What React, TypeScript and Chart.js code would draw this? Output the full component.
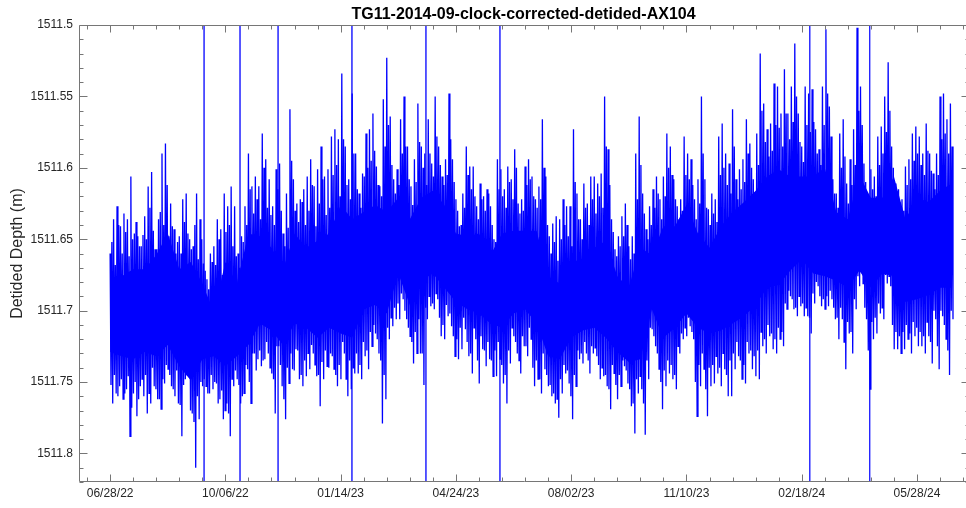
import { useEffect, useRef } from 'react';
import { Chart, registerables } from 'chart.js';

Chart.register(...registerables);

// ---------------- data ----------------
const TITLE = 'TG11-2014-09-clock-corrected-detided-AX104';
const Y_TITLE = 'Detided Depth (m)';

// Depth is stored as millimetres below 1511 m. Day 0 = 06/28/22.
const DEPTH_BASE_M = 1511;

// Readings per 3-day bin: largest excursion up / down, plus a secondary peak / trough
const BIN_DAYS = 3;
const upperMm = [
  660, 636, 627, 641, 632, 636, 606, 646, 648, 655, 634, 613, 603, 657, 636, 590, 583, 648, 641, 660,
  648, 622, 618, 650, 655, 618, 636, 667, 678, 660, 655, 636, 643, 618, 627, 613, 627, 660, 648, 627,
  590, 613, 606, 613, 576, 594, 608, 627, 601, 597, 646, 618, 559, 608, 625, 622, 615, 606, 594, 613,
  601, 585, 606, 601, 578, 573, 580, 534, 585, 608, 548, 590, 618, 604, 576, 573, 562, 599, 613, 552,
  523, 564, 608, 601, 566, 550, 585, 613, 594, 555, 585, 590, 566, 597, 550, 585, 606, 594, 548, 594,
  622, 641, 618, 585, 599, 599, 627, 611, 620, 615, 627, 650, 594, 601, 615, 599, 608, 587, 625, 622,
  599, 594, 606, 622, 613, 566, 606, 648, 639, 634, 636, 622, 627, 627, 573, 618, 636, 611, 625, 606,
  606, 611, 604, 550, 587, 636, 657, 648, 634, 625, 655, 648, 590, 564, 618, 643, 627, 615, 606, 622,
  606, 576, 585, 608, 627, 622, 578, 590, 594, 622, 608, 550, 608, 629, 618, 622, 578, 569, 590, 597,
  559, 608, 601, 594, 566, 583, 608, 576, 520, 555, 573, 569, 541, 543, 562, 531, 562, 543, 513, 562,
  585, 543, 548, 545, 573, 587, 543, 503, 557, 608, 618, 576, 566, 611, 594, 573, 502, 543, 597, 627,
  601, 606, 578, 571, 550, 526, 585, 611, 615, 622, 599, 594, 576, 571, 578, 590, 569, 590, 604, 590,
  550, 548, 566, 555,
];
const lowerMm = [
  765, 758, 753, 762, 755, 788, 758, 774, 753, 760, 772, 765, 753, 762, 769, 751, 741, 753, 760, 765,
  788, 748, 741, 772, 810, 776, 753, 753, 758, 755, 751, 762, 776, 765, 788, 753, 748, 765, 758, 741,
  765, 730, 734, 739, 734, 730, 744, 772, 725, 753, 776, 751, 741, 727, 748, 753, 746, 741, 730, 746,
  767, 748, 739, 730, 741, 753, 748, 730, 760, 755, 744, 744, 748, 732, 741, 725, 716, 730, 779, 762,
  720, 711, 706, 706, 692, 706, 718, 737, 730, 730, 752, 706, 697, 699, 692, 718, 720, 704, 711, 732,
  734, 727, 713, 732, 744, 720, 751, 727, 739, 734, 746, 746, 734, 751, 765, 737, 718, 730, 744, 725,
  732, 720, 753, 748, 758, 741, 753, 760, 765, 775, 758, 744, 751, 776, 753, 734, 737, 730, 744, 730,
  732, 748, 746, 753, 769, 744, 762, 753, 739, 751, 767, 786, 758, 755, 787, 748, 713, 725, 741, 769,
  753, 744, 748, 755, 730, 720, 718, 711, 720, 774, 753, 741, 774, 753, 751, 744, 753, 741, 760, 760,
  741, 732, 748, 751, 730, 741, 746, 748, 725, 730, 718, 727, 730, 720, 725, 699, 690, 699, 704, 697,
  704, 704, 716, 695, 683, 697, 699, 697, 692, 706, 720, 706, 741, 716, 730, 699, 683, 681, 706, 755,
  720, 716, 702, 706, 681, 683, 727, 727, 730, 727, 720, 730, 718, 725, 725, 730, 718, 737, 706, 741,
  704, 720, 745, 706,
];
const upper2Mm = [
  652, 668, 640, 660, 645, 662, 650, 638, 655, 647, 650, 628, 644, 657, 631, 640, 612, 625, 643, 652,
  660, 638, 646, 657, 640, 664, 650, 672, 685, 666, 668, 650, 675, 645, 640, 655, 662, 670, 652, 640,
  615, 632, 622, 636, 600, 628, 633, 640, 615, 630, 655, 642, 595, 630, 638, 624, 640, 630, 612, 641,
  625, 608, 633, 628, 605, 598, 620, 580, 612, 622, 590, 615, 628, 606, 600, 595, 588, 612, 620, 585,
  570, 598, 618, 612, 590, 585, 608, 626, 610, 582, 600, 612, 590, 606, 578, 598, 612, 605, 580, 610,
  630, 640, 628, 605, 615, 620, 636, 622, 630, 618, 640, 652, 615, 620, 628, 610, 622, 600, 632, 630,
  612, 608, 620, 628, 622, 600, 640, 660, 652, 665, 650, 640, 648, 655, 610, 636, 650, 628, 640, 622,
  632, 620, 628, 585, 612, 645, 662, 655, 648, 640, 664, 660, 622, 598, 632, 650, 640, 628, 618, 636,
  620, 600, 605, 622, 636, 630, 605, 608, 612, 636, 625, 590, 628, 640, 632, 638, 605, 600, 612, 618,
  585, 622, 615, 610, 590, 600, 618, 598, 560, 582, 592, 588, 570, 572, 585, 562, 580, 568, 550, 582,
  596, 570, 575, 568, 590, 598, 570, 548, 578, 618, 628, 600, 592, 625, 612, 598, 560, 570, 610, 632,
  615, 620, 598, 590, 575, 560, 600, 622, 628, 630, 612, 608, 595, 590, 598, 605, 588, 602, 615, 605,
  580, 576, 590, 585,
];
const lower2Mm = [
  752, 745, 760, 748, 758, 746, 768, 750, 762, 748, 745, 758, 740, 755, 762, 748, 738, 745, 755, 742,
  766, 752, 745, 770, 778, 760, 750, 748, 758, 745, 750, 765, 756, 770, 772, 748, 742, 752, 760, 738,
  750, 730, 742, 728, 735, 722, 740, 748, 725, 738, 762, 740, 730, 742, 728, 745, 735, 730, 724, 738,
  745, 736, 728, 740, 732, 745, 738, 722, 748, 735, 740, 730, 738, 722, 728, 715, 710, 720, 735, 745,
  712, 705, 698, 695, 688, 700, 712, 722, 715, 706, 730, 698, 690, 695, 688, 705, 710, 696, 702, 718,
  720, 712, 705, 722, 730, 712, 735, 718, 728, 722, 735, 728, 722, 738, 745, 728, 712, 722, 735, 718,
  725, 712, 740, 735, 748, 730, 745, 752, 758, 762, 748, 738, 742, 760, 745, 728, 730, 722, 735, 725,
  726, 738, 740, 745, 755, 738, 752, 745, 735, 742, 755, 765, 748, 746, 765, 735, 712, 718, 730, 750,
  742, 735, 738, 745, 725, 716, 712, 705, 715, 750, 738, 730, 755, 740, 738, 732, 740, 730, 745, 735,
  730, 722, 735, 738, 722, 728, 732, 728, 715, 720, 710, 716, 720, 712, 715, 695, 686, 692, 698, 690,
  695, 698, 705, 688, 680, 690, 692, 690, 686, 698, 705, 698, 722, 708, 715, 692, 676, 672, 698, 728,
  708, 705, 695, 698, 675, 676, 710, 715, 718, 715, 710, 716, 708, 712, 715, 718, 708, 722, 700, 725,
  700, 710, 728, 700,
];

// Innermost solid body of the trace, every 10 days
const CORE_STEP_DAYS = 10;
const coreTopMm = [
  686, 676, 671, 671, 661, 646, 671, 666, 681, 701, 666, 681, 646,
  648, 656, 671, 646, 656, 651, 646, 626, 636, 631, 626, 631,
  621, 636, 621, 616, 626, 646, 648, 646, 661, 646, 644, 644, 644,
  676, 681, 666, 664, 656, 651, 676, 684, 656, 661, 641, 641, 626,
  646, 656, 641, 631, 624, 616, 606, 601, 606, 606, 606, 600,
  631, 636, 605, 621, 621, 606, 636, 621, 624, 616, 611,
];
const coreBottomMm = [
  729, 732, 734, 729, 732, 724, 739, 749, 734, 732, 739, 732, 724,
  709, 714, 724, 709, 712, 719, 712, 716, 719, 699, 696, 702,
  674, 696, 679, 674, 684, 694, 699, 702, 709, 712, 702, 699, 709,
  732, 734, 719, 714, 712, 719, 729, 736, 734, 699, 719, 712, 702,
  712, 716, 714, 709, 704, 696, 684, 682, 672, 664, 674, 676,
  679, 684, 672, 684, 674, 676, 694, 692, 689, 684, 684,
];

// bad samples that shoot far off both ends of the axis (days since 06/28/22)
const spikeDays = [81.5, 112.7, 145.7, 209.8, 274, 338.2, 607, 659];
const spikeTopM = 1511.2;
const spikeBottomM = 1512.1;

// axes
const X_MIN_DAY = -27;
const X_MAX_DAY = 746;
const xTickDays = [0, 100, 200, 300, 400, 500, 600, 700];
const xTickLabels = ['06/28/22', '10/06/22', '01/14/23', '04/24/23', '08/02/23', '11/10/23', '02/18/24', '05/28/24'];
const Y_MIN = 1511.5;
const Y_MAX = 1511.82;
const yTickValues = [1511.5, 1511.55, 1511.6, 1511.65, 1511.7, 1511.75, 1511.8];
const yTickLabels = ['1511.5', '1511.55', '1511.6', '1511.65', '1511.7', '1511.75', '1511.8'];
const X_MINOR_STEP = 20;
const Y_MINOR_STEP = 0.01;

const FONT = '"Liberation Sans", Arial, Helvetica, sans-serif';
const AXIS_COLOR = '#767676';
const TEXT_COLOR = '#262626';
const LINE_BLUE = '#0000ff';

const toM = (mm: number) => DEPTH_BASE_M + mm / 1000;

function tracePoints() {
  const pts: { x: number; y: number }[] = [];
  const q = BIN_DAYS / 4;
  for (let i = 0; i < upperMm.length; i++) {
    const d = i * BIN_DAYS;
    pts.push({ x: d, y: toM(upperMm[i]) });
    pts.push({ x: d + q, y: toM(lower2Mm[i]) });
    pts.push({ x: d + 2 * q, y: toM(upper2Mm[i]) });
    pts.push({ x: d + 3 * q, y: toM(lowerMm[i]) });
  }
  return pts;
}

function spikePoints() {
  const pts: { x: number; y: number | null }[] = [];
  spikeDays.forEach((d) => {
    pts.push({ x: d, y: spikeTopM });
    pts.push({ x: d, y: spikeBottomM });
    pts.push({ x: d, y: null });
  });
  return pts;
}

const corePoints = (arr: number[]) => arr.map((v, i) => ({ x: i * CORE_STEP_DAYS, y: toM(v) }));

const matlabAxes = {
  id: 'matlabAxes',
  afterDatasetsDraw(chart: any) {
    const { ctx, chartArea: a, scales } = chart;
    const x = scales.x;
    const y = scales.y;
    ctx.save();
    ctx.strokeStyle = AXIS_COLOR;
    ctx.lineWidth = 1;
    ctx.beginPath();
    const L = a.left + 0.5;
    const R = a.right - 0.5;
    const T = a.top + 0.5;
    const B = a.bottom - 0.5;
    ctx.moveTo(L, B);
    ctx.lineTo(L, T);
    ctx.lineTo(R, T);
    ctx.lineTo(R, B);
    ctx.lineTo(L, B);
    for (let d = -X_MINOR_STEP; d <= X_MAX_DAY; d += X_MINOR_STEP) {
      if (d < X_MIN_DAY) continue;
      const major = xTickDays.indexOf(d) >= 0;
      const len = major ? 7 : 4;
      const px = Math.round(x.getPixelForValue(d)) + 0.5;
      ctx.moveTo(px, B);
      ctx.lineTo(px, B - len);
      ctx.moveTo(px, T);
      ctx.lineTo(px, T + len);
    }
    for (let k = 0; k <= Math.round((Y_MAX - Y_MIN) / Y_MINOR_STEP); k++) {
      const v = Y_MIN + k * Y_MINOR_STEP;
      const major = k % 5 === 0;
      const len = major ? 8 : 4;
      const py = Math.round(y.getPixelForValue(v)) + 0.5;
      ctx.moveTo(L, py);
      ctx.lineTo(L + len, py);
      ctx.moveTo(R, py);
      ctx.lineTo(R - len, py);
    }
    ctx.stroke();

    ctx.fillStyle = '#000';
    ctx.font = `bold 16px ${FONT}`;
    ctx.textAlign = 'center';
    ctx.textBaseline = 'alphabetic';
    ctx.fillText(TITLE, (a.left + 966) / 2 + 1, 19);
    ctx.restore();
  },
};

export default function App() {
  const ref = useRef<HTMLCanvasElement | null>(null);

  useEffect(() => {
    if (!ref.current) return;
    const chart = new Chart(ref.current, {
      type: 'line',
      data: {
        datasets: [
          {
            label: 'trace',
            data: tracePoints(),
            borderColor: LINE_BLUE,
            borderWidth: 1.3,
            pointRadius: 0,
            tension: 0,
            fill: false,
            order: 0,
          },
          {
            label: 'spikes',
            data: spikePoints(),
            borderColor: 'rgba(0,0,255,0.6)',
            borderWidth: 1,
            pointRadius: 0,
            spanGaps: false,
            fill: false,
            order: 1,
          },
          {
            label: 'core top',
            data: corePoints(coreTopMm),
            borderColor: LINE_BLUE,
            borderWidth: 0,
            backgroundColor: LINE_BLUE,
            pointRadius: 0,
            tension: 0,
            fill: '+1',
            order: 2,
          },
          {
            label: 'core bottom',
            data: corePoints(coreBottomMm),
            borderColor: LINE_BLUE,
            borderWidth: 0,
            pointRadius: 0,
            tension: 0,
            fill: false,
            order: 3,
          },
        ],
      },
      options: {
        animation: false,
        responsive: false,
        events: [],
        layout: { padding: { top: 25, right: 2, left: 0, bottom: 0 } },
        plugins: { legend: { display: false }, tooltip: { enabled: false }, title: { display: false } },
        scales: {
          x: {
            type: 'linear',
            min: X_MIN_DAY,
            max: X_MAX_DAY,
            afterBuildTicks: (s: any) => {
              s.ticks = xTickDays.map((v) => ({ value: v }));
            },
            afterFit: (s: any) => {
              s.height = 26;
            },
            grid: { display: false, drawTicks: false },
            border: { display: false },
            ticks: {
              autoSkip: false,
              maxRotation: 0,
              padding: 4,
              color: TEXT_COLOR,
              font: { family: FONT, size: 12 },
              callback: (v: any) => {
                const i = xTickDays.indexOf(Number(v));
                return i >= 0 ? xTickLabels[i] : '';
              },
            },
          },
          y: {
            type: 'linear',
            reverse: true,
            min: Y_MIN,
            max: Y_MAX,
            afterBuildTicks: (s: any) => {
              s.ticks = yTickValues.map((v) => ({ value: v }));
            },
            afterFit: (s: any) => {
              s.width = 79;
            },
            grid: { display: false, drawTicks: false },
            border: { display: false },
            title: {
              display: true,
              text: Y_TITLE,
              color: TEXT_COLOR,
              font: { family: FONT, size: 16 },
              padding: { top: 8, bottom: 0 },
            },
            ticks: {
              autoSkip: false,
              padding: 6,
              color: TEXT_COLOR,
              font: { family: FONT, size: 12 },
              callback: (v: any) => {
                const i = yTickValues.indexOf(Number(v));
                return i >= 0 ? yTickLabels[i] : '';
              },
            },
          },
        },
      },
      plugins: [matlabAxes],
    });
    return () => chart.destroy();
  }, []);

  return (
    <div style={{ position: 'fixed', left: 0, top: 0, width: 966, height: 508, overflow: 'hidden', background: '#fff' }}>
      <canvas ref={ref} width={972} height={508} style={{ display: 'block' }} />
    </div>
  );
}
